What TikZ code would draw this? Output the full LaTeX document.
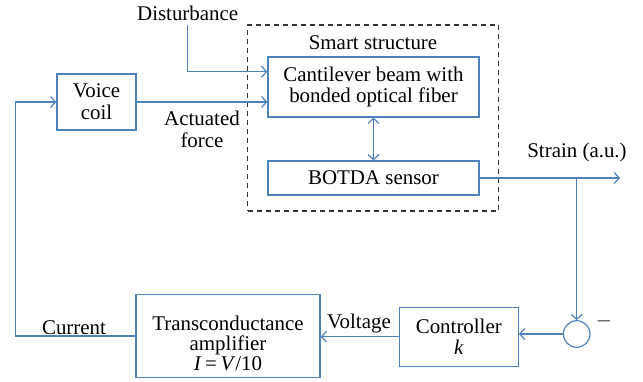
\documentclass[tikz,border=0pt]{standalone}
\usepackage{fontspec}
\setmainfont{Liberation Serif}
\usetikzlibrary{arrows.meta}
\definecolor{lnblue}{HTML}{4F81BD}
\begin{document}
\begin{tikzpicture}[x=1bp,y=-1bp,every node/.style={font=\fontsize{21}{22}\selectfont,inner sep=0pt},
  blk/.style={draw=lnblue,line width=1.3bp,fill=white,align=center},
  sig/.style={draw=lnblue,line width=1.2bp,-{Straight Barb[length=5bp,width=11bp]}}]
\useasboundingbox (0,0) rectangle (643,381);
% smart structure frame
\node[draw=black!80,dash pattern=on 5bp off 4bp,line width=1.2bp,minimum width=251bp,minimum height=186bp] (smart) at (373,118) {};
\node (smartlbl) at (373,43) {Smart structure};
\node[blk,minimum width=211bp,minimum height=60bp] (beam) at (373.5,87) {Cantilever beam with\\bonded optical fiber};
\node[blk,minimum width=211bp,minimum height=34bp] (botda) at (373.5,178) {BOTDA sensor};
\draw[sig,{Straight Barb[length=5bp,width=11bp]}-{Straight Barb[length=5bp,width=11bp]}] (beam.south) -- (botda.north);
% actuator side
\node[blk,minimum width=79bp,minimum height=56bp] (voice) at (96.5,102) {Voice\\coil};
\node (dist) at (187.7,13) {Disturbance};
\draw[sig] ([yshift=-4bp]dist.south) |- ([yshift=15.3bp]beam.west);
\draw[sig] (voice.east) -- (voice.east -| beam.west);
\node[align=center] (force) at (202,129) {Actuated\\force};
% feedback loop
\node[blk,minimum width=184bp,minimum height=83bp] (trans) at (228,336) {\rule{0pt}{29bp}Transconductance\\[-2bp]amplifier\\[-2bp]\textit{I}\,=\,\textit{V}/10};
\node[blk,minimum width=119bp,minimum height=59bp] (ctrl) at (458.8,336.7) {Controller\\\textit{k}};
\node[draw=lnblue,line width=1.2bp,circle,minimum size=26.6bp] (sum) at (576.7,334) {};
\node (minus) at (604,321) {$-$};
\coordinate (strainend) at (620,177);
\draw[sig] (botda.east) -- (botda.east -| strainend);
\node (strain) at (577,152) {Strain (a.u.)};
\draw[sig] (botda.east -| sum.north) -- (sum.north);
\draw[sig] (sum.west) -- (sum.west -| ctrl.east);
\draw[sig] (ctrl.west) -- (ctrl.west -| trans.east);
\node (volt) at (359,323) {Voltage};
\draw[sig] (trans.west) -- ++(-119.7,0) |- (voice.west);
\node (curr) at (74,328) {Current};
\end{tikzpicture}
\end{document}
